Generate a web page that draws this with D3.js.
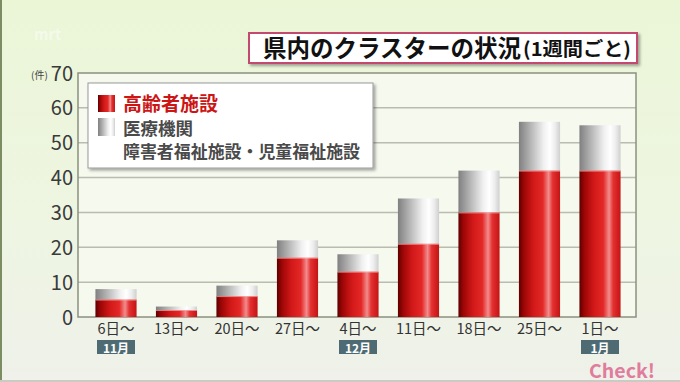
<!DOCTYPE html>
<html><head><meta charset="utf-8">
<script src="https://cdn.jsdelivr.net/npm/d3@7"></script>
<style>
html,body{margin:0;padding:0;background:#fff;}
svg{display:block;}
text{font-family:"Noto Sans CJK JP","Noto Sans",sans-serif;}
</style></head>
<body>
<svg id="c" width="680" height="382"></svg>
<script>
const categories = ["6日〜","13日〜","20日〜","27日〜","4日〜","11日〜","18日〜","25日〜","1日〜"];
const monthLabels = ["11月","","","","12月","","","","1月"];
const elderly = [5,2,6,17,13,21,30,42,42];
const others  = [3,1,3,5,5,13,12,14,13];
const yTicks = [0,10,20,30,40,50,60,70];
const seriesNames = ["高齢者施設","医療機関","障害者福祉施設・児童福祉施設"];
const titleMain = "県内のクラスターの状況";
const titleSub = "(1週間ごと)";

const svg = d3.select("#c");
const defs = svg.append("defs");

// background
const bg = defs.append("linearGradient").attr("id","bg").attr("x1",0).attr("y1",0).attr("x2",0).attr("y2",1);
bg.append("stop").attr("offset","0%").attr("stop-color","#ebf6d7");
bg.append("stop").attr("offset","60%").attr("stop-color","#eef5e2");
bg.append("stop").attr("offset","100%").attr("stop-color","#eff1ea");
svg.append("rect").attr("width",680).attr("height",382).attr("fill","url(#bg)");
svg.append("rect").attr("x",0).attr("y",0).attr("width",2).attr("height",382).attr("fill","#7d8d63");
svg.append("rect").attr("x",0).attr("y",380).attr("width",680).attr("height",2).attr("fill","#c9ccc3");

// bar gradients
function hgrad(id, stops){
  const g = defs.append("linearGradient").attr("id",id).attr("x1",0).attr("y1",0).attr("x2",1).attr("y2",0);
  stops.forEach(s=>g.append("stop").attr("offset",s[0]).attr("stop-color",s[1]));
}
hgrad("gRed",[["0%","#5e0000"],["12%","#9c0606"],["35%","#d21818"],["58%","#e42828"],["72%","#f28c8c"],["82%","#e43030"],["100%","#c41414"]]);
hgrad("gGray",[["0%","#808080"],["30%","#b8b8b8"],["60%","#f0f0f0"],["75%","#ffffff"],["88%","#ededed"],["100%","#cfcfcf"]]);
const sh = defs.append("filter").attr("id","sh").attr("x","-10%").attr("y","-10%").attr("width","130%").attr("height","140%");
sh.append("feDropShadow").attr("dx",2).attr("dy",2).attr("stdDeviation",1.5).attr("flood-color","#000").attr("flood-opacity",0.35);

// mrt faint logo
svg.append("text").attr("x",34).attr("y",40).attr("font-size",15).attr("font-weight","bold")
  .attr("fill","#ffffff").attr("opacity",0.45).text("mrt");

// plot area
const x0 = 78, x1 = 636, yTop = 73, yBot = 317;
const y = d3.scaleLinear().domain([0,70]).range([yBot,yTop]);
const x = d3.scaleBand().domain(categories).range([85.75,630.25]).paddingInner(0.32).paddingOuter(0.16);

svg.append("rect").attr("x",x0).attr("y",yTop).attr("width",x1-x0).attr("height",yBot-yTop).attr("fill","#f5f9ee");

// gridlines
svg.append("g").selectAll("line").data(yTicks.filter(t=>t>0&&t<70)).join("line")
  .attr("x1",x0).attr("x2",x1).attr("y1",d=>y(d)).attr("y2",d=>y(d))
  .attr("stroke","#b9bcae").attr("stroke-width",1.5);

svg.append("rect").attr("x",x0).attr("y",yTop).attr("width",x1-x0).attr("height",yBot-yTop)
  .attr("fill","none").attr("stroke","#8c907f").attr("stroke-width",1.5);

// y axis
const yAxis = d3.axisLeft(y).tickValues(yTicks).tickSize(0).tickPadding(5);
const ya = svg.append("g").attr("transform",`translate(${x0},0)`).call(yAxis);
ya.select(".domain").remove();
ya.selectAll("text").attr("font-size",20).attr("fill","#3a3a3a")
  .attr("font-family","'Liberation Sans Narrow','Roboto','Noto Sans',sans-serif").attr("dy","0.35em");
svg.append("text").attr("x",31).attr("y",79).attr("font-size",10).attr("fill","#444").text("(件)");

// bars
const bars = svg.append("g");
categories.forEach((c,i)=>{
  const bx = x(c), bw = x.bandwidth();
  bars.append("rect").attr("x",bx).attr("width",bw)
    .attr("y",y(elderly[i]+others[i])).attr("height",y(elderly[i])-y(elderly[i]+others[i]))
    .attr("fill","url(#gGray)");
  bars.append("rect").attr("x",bx).attr("width",bw)
    .attr("y",y(elderly[i])).attr("height",y(0)-y(elderly[i]))
    .attr("fill","url(#gRed)");
  bars.append("line").attr("x1",bx).attr("x2",bx+bw).attr("y1",y(elderly[i])+0.5).attr("y2",y(elderly[i])+0.5)
    .attr("stroke","#f7b0b0").attr("stroke-width",1).attr("opacity",0.7);
});

// x axis labels
const xAxis = d3.axisBottom(x).tickSize(0).tickPadding(0);
const xa = svg.append("g").attr("transform",`translate(0,${yBot})`).call(xAxis);
xa.select(".domain").remove();
xa.selectAll("text").attr("font-size",14.5).attr("fill","#333").attr("dy",null).attr("y",16.5);

// month badges
const mb = svg.append("g");
categories.forEach((c,i)=>{
  if(!monthLabels[i]) return;
  const cx = x(c)+x.bandwidth()/2;
  mb.append("rect").attr("x",cx-19).attr("y",340).attr("width",38).attr("height",14).attr("fill","#4e6b73");
  mb.append("text").attr("x",cx).attr("y",352.5).attr("text-anchor","middle").attr("font-size",12)
    .attr("font-weight","bold").attr("fill","#fff").text(monthLabels[i]);
});

// legend
const lg = svg.append("g");
lg.append("rect").attr("x",88).attr("y",83).attr("width",285).attr("height",85)
  .attr("fill","#ffffff").attr("stroke","#9a9a9a").attr("stroke-width",1).attr("filter","url(#sh)");
lg.append("rect").attr("x",98).attr("y",95).attr("width",17).attr("height",17).attr("fill","url(#gRed)");
lg.append("rect").attr("x",98).attr("y",118).attr("width",17).attr("height",18).attr("fill","url(#gGray)");
lg.append("text").attr("x",123).attr("y",111).attr("font-size",19).attr("font-weight","bold").attr("fill","#cc1515")
  .attr("textLength",95).attr("lengthAdjust","spacingAndGlyphs").text(seriesNames[0]);
lg.append("text").attr("x",123).attr("y",134.5).attr("font-size",17).attr("font-weight","bold").attr("fill","#4a4a4a")
  .attr("textLength",70).attr("lengthAdjust","spacingAndGlyphs").text(seriesNames[1]);
lg.append("text").attr("x",123).attr("y",158).attr("font-size",17).attr("font-weight","bold").attr("fill","#4a4a4a")
  .attr("textLength",237).attr("lengthAdjust","spacingAndGlyphs").text(seriesNames[2]);

// title
const tg = svg.append("g");
tg.append("rect").attr("x",249).attr("y",33).attr("width",388).attr("height",30)
  .attr("fill","#ffffff").attr("stroke","#c44a6e").attr("stroke-width",2).attr("filter","url(#sh)");
tg.append("text").attr("x",263).attr("y",57).attr("fill","#111").attr("font-weight","bold")
  .attr("font-size",24).attr("textLength",258).attr("lengthAdjust","spacingAndGlyphs").text(titleMain);
tg.append("text").attr("x",523).attr("y",56).attr("fill","#111").attr("font-weight","bold")
  .attr("font-size",19).attr("textLength",108).attr("lengthAdjust","spacingAndGlyphs").text(titleSub);

// Check! logo
svg.append("text").attr("x",589).attr("y",378).attr("font-size",19).attr("font-weight","bold")
  .attr("fill","#e07c9c").attr("font-family","'DejaVu Sans','Noto Sans',sans-serif")
  .attr("textLength",66).attr("lengthAdjust","spacingAndGlyphs").text("Check!");
</script>
</body></html>
